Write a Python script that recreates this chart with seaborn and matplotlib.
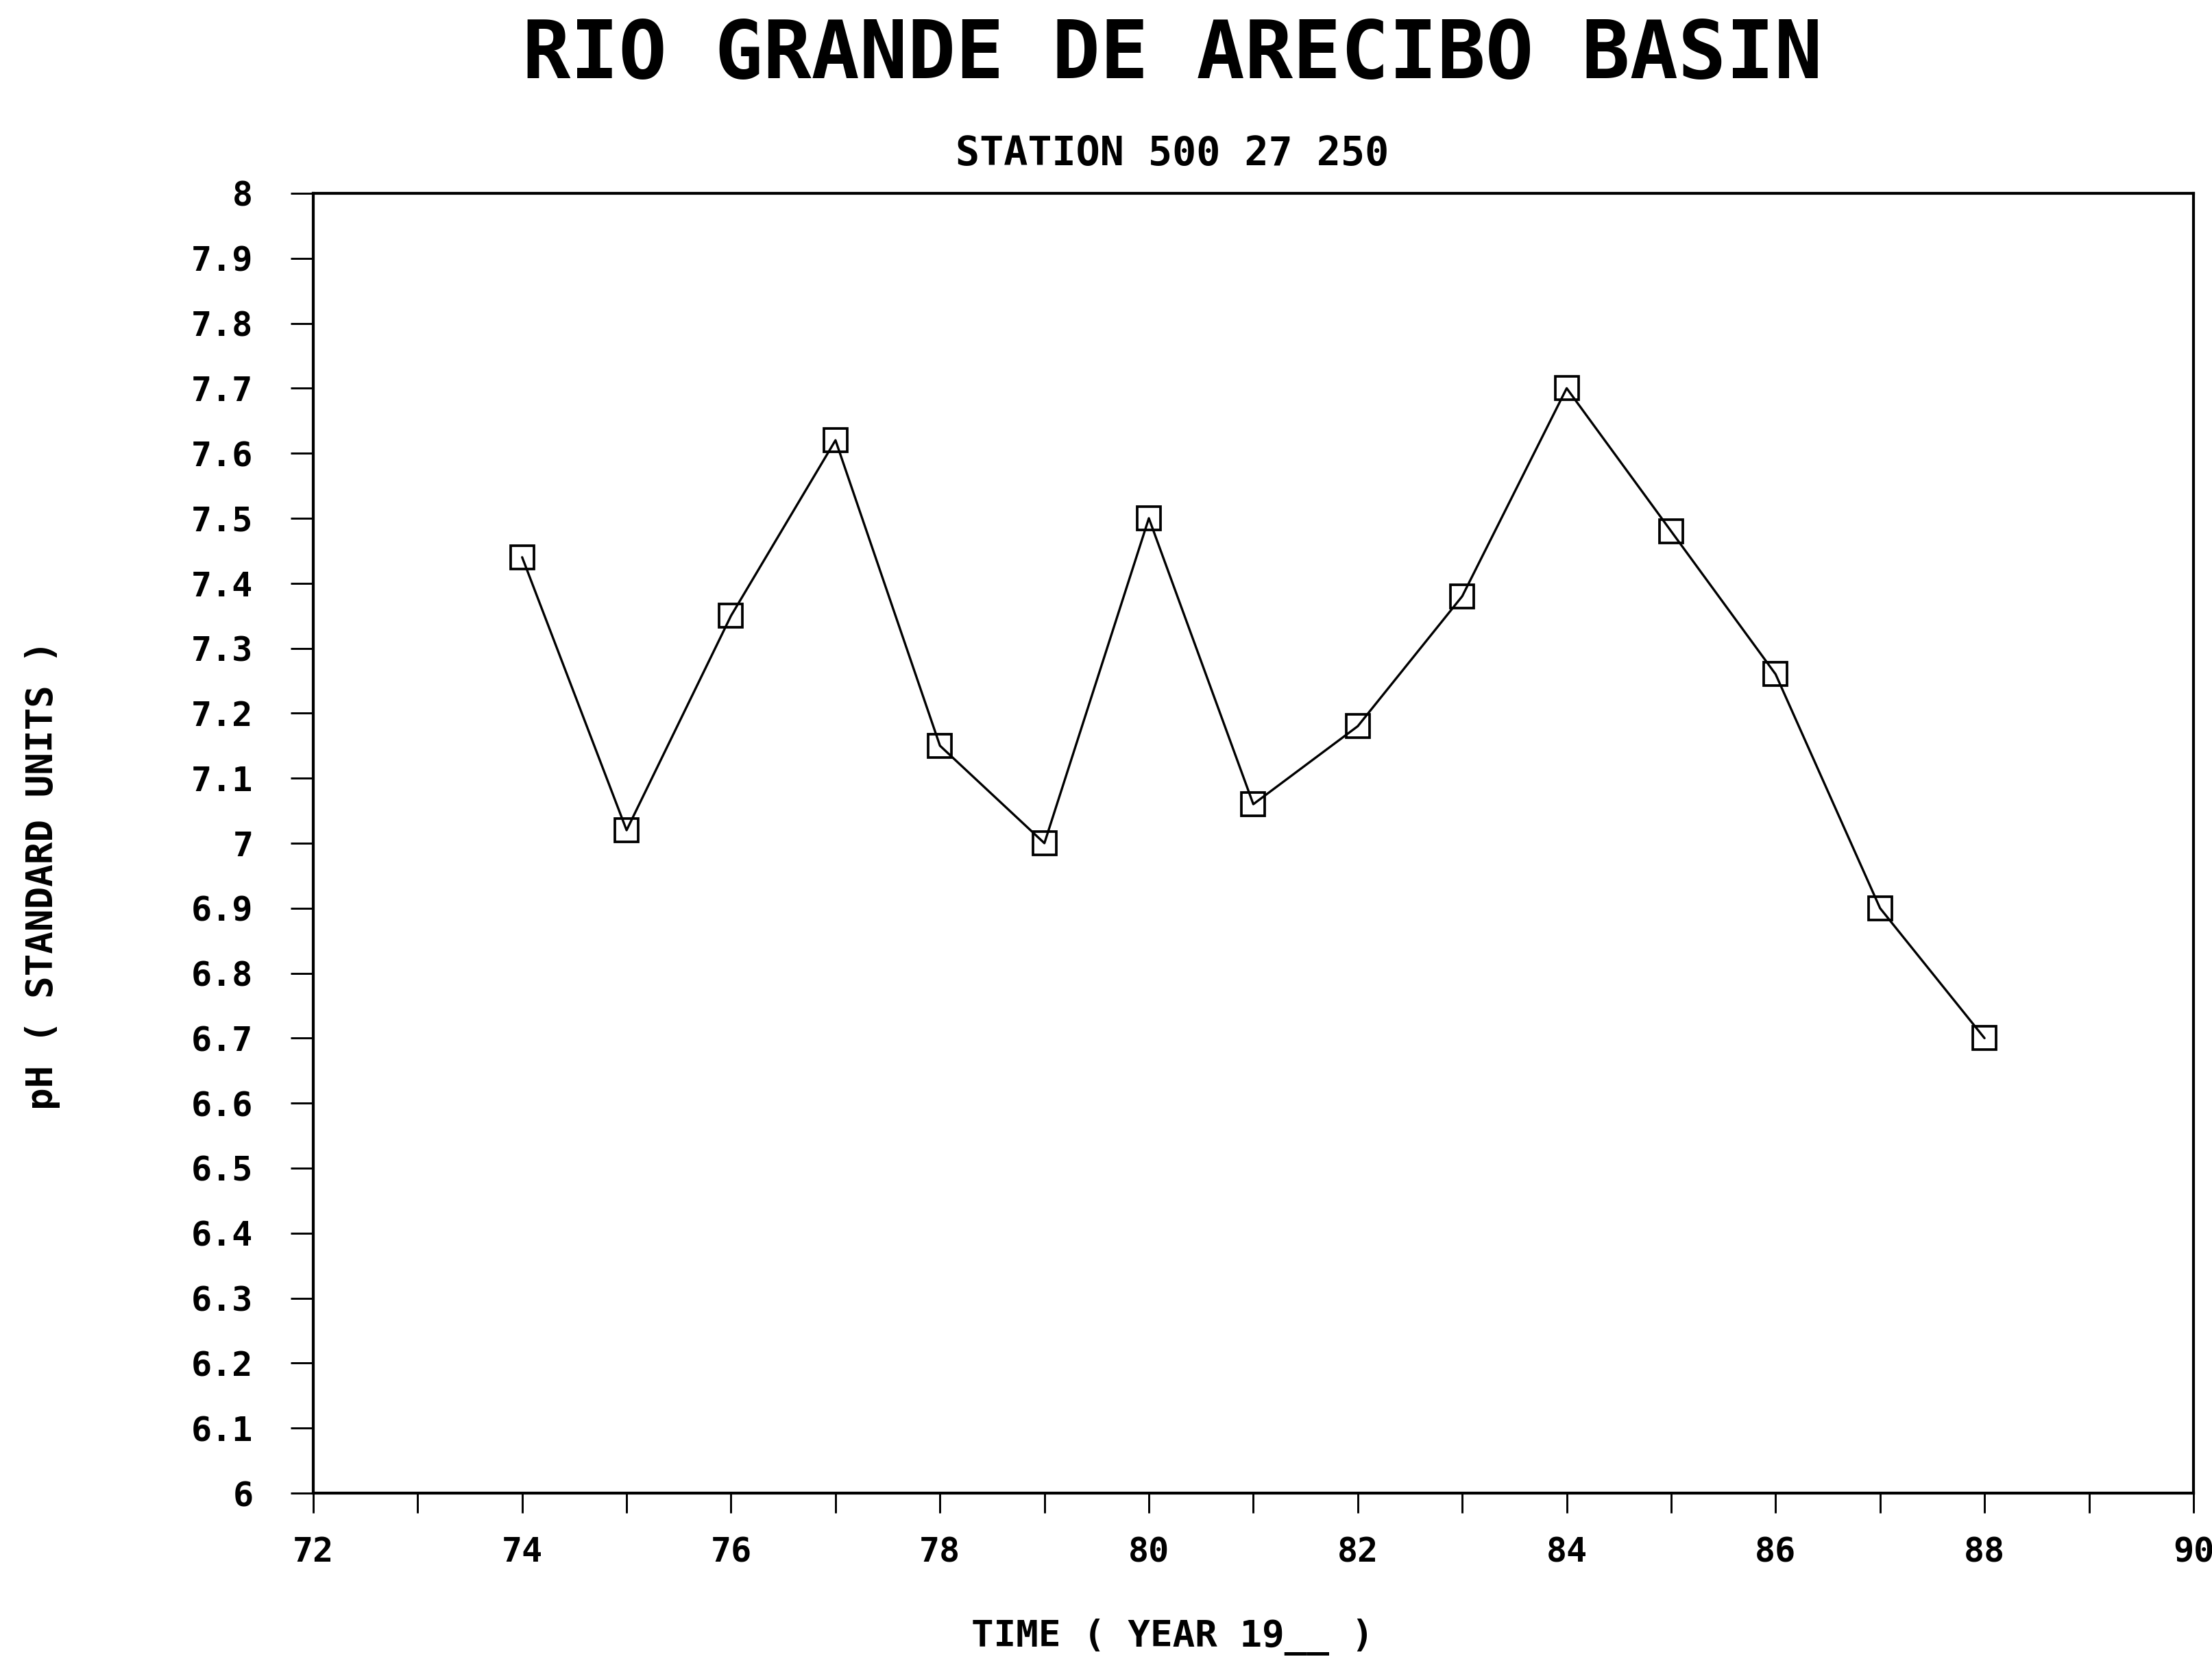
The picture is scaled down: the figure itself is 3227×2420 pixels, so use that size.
import matplotlib
matplotlib.use("Agg")
import matplotlib.pyplot as plt
import seaborn as sns
import pandas as pd

# pH yearly values
years = [74, 75, 76, 77, 78, 79, 80, 81, 82, 83, 84, 85, 86, 87, 88]
ph_values = [7.44, 7.02, 7.35, 7.62, 7.15, 7.00, 7.50, 7.06, 7.18, 7.38,
             7.70, 7.48, 7.26, 6.90, 6.70]

x_major = [72, 74, 76, 78, 80, 82, 84, 86, 88, 90]
x_minor = [73, 75, 77, 79, 81, 83, 85, 87, 89]
x_labels = ["72", "74", "76", "78", "80", "82", "84", "86", "88", "90"]
y_ticks = [6.0, 6.1, 6.2, 6.3, 6.4, 6.5, 6.6, 6.7, 6.8, 6.9, 7.0,
           7.1, 7.2, 7.3, 7.4, 7.5, 7.6, 7.7, 7.8, 7.9, 8.0]
y_labels = ["6", "6.1", "6.2", "6.3", "6.4", "6.5", "6.6", "6.7", "6.8", "6.9", "7",
            "7.1", "7.2", "7.3", "7.4", "7.5", "7.6", "7.7", "7.8", "7.9", "8"]

title = "RIO GRANDE DE ARECIBO BASIN"
subtitle = "STATION 500 27 250"
x_title = "TIME ( YEAR 19__ )"
y_title = "pH ( STANDARD UNITS )"

df = pd.DataFrame({"year": years, "ph": ph_values})

sns.set_style("white")
plt.rcParams['font.family'] = ['DejaVu Sans Mono', 'DejaVu Sans']
plt.rcParams['font.weight'] = 'bold'
plt.rcParams['text.color'] = 'black'
plt.rcParams['xtick.color'] = 'black'
plt.rcParams['ytick.color'] = 'black'

fig = plt.figure(figsize=(3227 / 300, 2420 / 300), dpi=300)
ax = fig.add_axes([0.1416, 0.100, 0.850, 0.7835])

sns.lineplot(data=df, x="year", y="ph", ax=ax, color="black", linewidth=0.8,
             marker="s", markersize=8, markerfacecolor="none",
             markeredgecolor="black", markeredgewidth=0.9)

ax.set_xlim(72, 90)
ax.set_ylim(6, 8)
ax.set_xticks(x_major)
ax.set_xticklabels(x_labels)
ax.set_xticks(x_minor, minor=True)
ax.set_yticks(y_ticks)
ax.set_yticklabels(y_labels)

ax.tick_params(axis="x", which="both", direction="out", length=7, width=0.7,
               pad=8, labelsize=12, bottom=True, colors="black")
ax.tick_params(axis="y", which="both", direction="out", length=8, width=0.7,
               pad=13, labelsize=12, left=True, colors="black")
for lab in ax.get_xticklabels() + ax.get_yticklabels():
    lab.set_fontweight("bold")

for side in ["left", "bottom", "top", "right"]:
    ax.spines[side].set_visible(True)
    ax.spines[side].set_color("black")
    ax.spines[side].set_linewidth(1.0)

ax.set_xlabel("")
ax.set_ylabel("")
ax.grid(False)

fig.text(0.530, 1 - 81 / 2420, title, ha="center", va="center",
         fontsize=28, fontweight="bold")
fig.text(0.530, 1 - 224 / 2420, subtitle, ha="center", va="center",
         fontsize=14, fontweight="bold")
fig.text(0.530, 1 - 2388 / 2420, x_title, ha="center", va="center",
         fontsize=13, fontweight="bold")
fig.text(62 / 3227, 1 - 1276 / 2420, y_title, ha="center", va="center",
         rotation=90, fontsize=13, fontweight="bold")

fig.savefig("out.png", dpi=300, facecolor="white")
plt.close(fig)
